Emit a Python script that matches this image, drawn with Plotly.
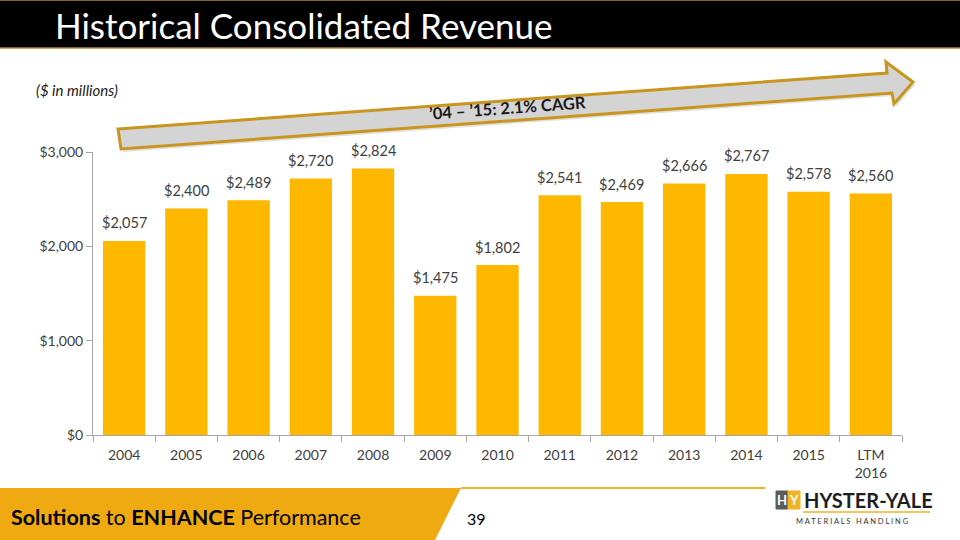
import plotly.graph_objects as go

# ---- data ----
categories = ["2004", "2005", "2006", "2007", "2008", "2009", "2010",
              "2011", "2012", "2013", "2014", "2015", "LTM<br>2016"]
revenue = [2057, 2400, 2489, 2720, 2824, 1475, 1802,
           2541, 2469, 2666, 2767, 2578, 2560]
y_ticks = [0, 1000, 2000, 3000]
y_tick_labels = ["$0", "$1,000", "$2,000", "$3,000"]
title_text = "Historical Consolidated Revenue"
units_text = "($ in millions)"
cagr_text = "’04 – ’15: 2.1% CAGR"
page_number = "39"

# ---- layout geometry (pixels) ----
W, H = 960, 540
PL, PR, PT, PB = 93, 902, 152, 435   # plot area in pixels
FONT = "Lato, 'Open Sans', sans-serif"
BAR = "#FFB800"
GOLD = "#C8961E"
TXT = "#404040"


def px(x):
    return (x - PL) / (PR - PL)


def py(y):
    return (PB - y) / (PB - PT)


def path(points):
    return "M " + " L ".join(f"{px(a):.5f},{py(b):.5f}" for a, b in points) + " Z"


fig = go.Figure()
fig.add_trace(go.Bar(
    x=categories, y=revenue,
    marker=dict(color=BAR, line=dict(width=0)),
    hoverinfo="skip",
))

shapes = []
# title bar
shapes.append(dict(type="rect", xref="paper", yref="paper",
                   x0=px(-2), x1=px(W + 2), y0=py(0), y1=py(48),
                   fillcolor="black", line=dict(color="#B8892A", width=1.5), layer="above"))
# footer band with slanted edge
shapes.append(dict(type="path", xref="paper", yref="paper",
                   path=path([(0, 488), (461, 488), (435, 540), (0, 540)]),
                   fillcolor="#EEAA10", line=dict(width=0)))
# thin gold line
shapes.append(dict(type="line", xref="paper", yref="paper",
                   x0=px(461), x1=px(765), y0=py(488), y1=py(488),
                   line=dict(color="#F0B323", width=2)))
# arrow shadow
arrow_pts = [(118, 129), (887, 73), (886, 62), (913, 82), (894, 104), (892, 93), (121, 149)]
shapes.append(dict(type="path", xref="paper", yref="paper",
                   path=path([(a + 2, b + 3) for a, b in arrow_pts]),
                   fillcolor="rgba(0,0,0,0.12)", line=dict(width=0)))
# arrow
shapes.append(dict(type="path", xref="paper", yref="paper",
                   path=path(arrow_pts),
                   fillcolor="#D4D4D4", line=dict(color=GOLD, width=3)))
# logo boxes
shapes.append(dict(type="rect", xref="paper", yref="paper",
                   x0=px(776), x1=px(788), y0=py(491), y1=py(509),
                   fillcolor="#5A5A5A", line=dict(color="#5A5A5A", width=1)))
shapes.append(dict(type="rect", xref="paper", yref="paper",
                   x0=px(788), x1=px(800), y0=py(491), y1=py(509),
                   fillcolor="#F0B323", line=dict(color="#F0B323", width=1)))
shapes.append(dict(type="line", xref="paper", yref="paper",
                   x0=px(803), x1=px(930), y0=py(512), y1=py(512),
                   line=dict(color="#F0B323", width=1.5)))

annotations = []

# value labels above bars (positioned by the data axes; category index on x)
for i, v in enumerate(revenue):
    annotations.append(dict(xref="x", yref="y", x=i, y=v, text=f"${v:,}",
                            showarrow=False, xanchor="center", yanchor="middle",
                            yshift=18, font=dict(family=FONT, size=14.5, color=TXT)))


def ann(x, y, text, size, color="black", xanchor="left", angle=0, family=FONT):
    annotations.append(dict(xref="paper", yref="paper", x=px(x), y=py(y), text=text,
                            showarrow=False, xanchor=xanchor, yanchor="middle",
                            textangle=angle,
                            font=dict(family=family, size=size, color=color)))


ann(53, 25, title_text, 35, "white")
ann(34, 90, f"<i>{units_text}</i>", 15, "#1A1A1A")
ann(508, 108, f"<b>{cagr_text}</b>", 16.5, "#1A1A1A", xanchor="center", angle=-4.2)
ann(9, 517, "<b>Solutions</b> to <b>ENHANCE</b> Performance", 21.5, "black")
ann(465, 518, page_number, 16, "black")
ann(782, 500, "<b>H</b>", 13, "white", xanchor="center")
ann(794, 500, "<b>Y</b>", 13, "white", xanchor="center")
ann(802, 500, "<b>HYSTER-YALE</b>", 20, "#1E1E1E")
ann(794, 521, "M A T E R I A L S   H A N D L I N G", 7.5, "#333333")

fig.update_layout(
    width=W, height=H,
    margin=dict(l=PL, r=W - PR, t=PT, b=H - PB),
    paper_bgcolor="white", plot_bgcolor="white",
    bargap=0.32, showlegend=False,
    shapes=shapes, annotations=annotations,
    font=dict(family=FONT, size=14, color=TXT),
)
fig.update_xaxes(
    type="category", range=[-0.5, len(categories) - 0.5],
    showline=True, linecolor="#A6A6A6", linewidth=1,
    ticks="outside", tickson="boundaries", ticklen=6, tickcolor="#A6A6A6",
    ticklabelstandoff=7,
    tickfont=dict(family=FONT, size=14, color=TXT), showgrid=False,
)
fig.update_yaxes(
    range=[0, 3000], tickvals=y_ticks, ticktext=y_tick_labels,
    showline=True, linecolor="#A6A6A6", linewidth=1,
    ticks="outside", ticklen=6, tickcolor="#A6A6A6",
    tickfont=dict(family=FONT, size=14, color=TXT), showgrid=False, zeroline=False,
)

fig.write_html("out.html", config={"displayModeBar": False},
               post_script="document.body.style.margin='0';document.body.style.overflow='hidden';")
